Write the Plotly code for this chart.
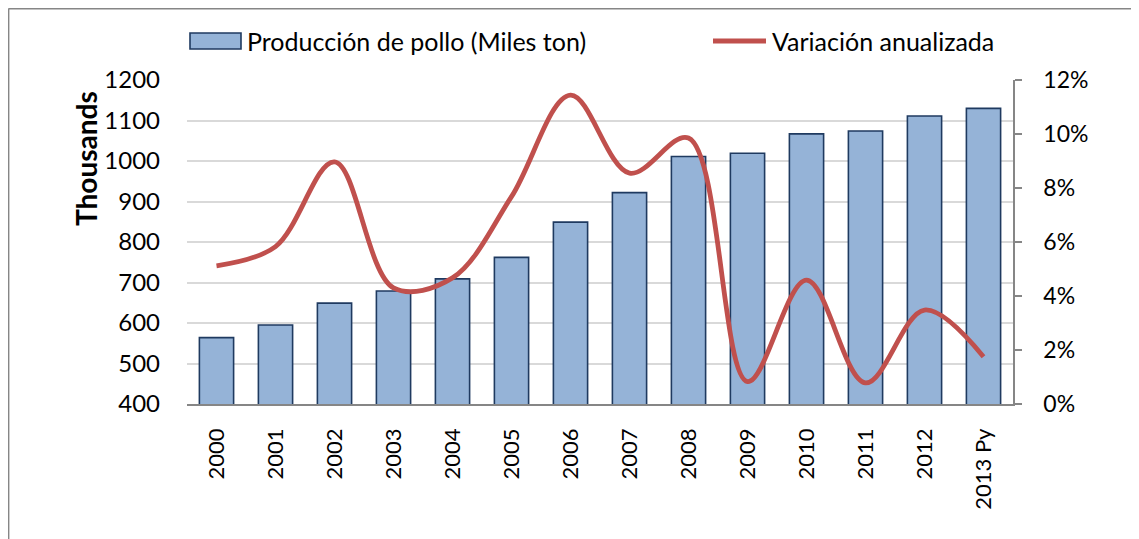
import plotly.graph_objects as go

years = ["2000", "2001", "2002", "2003", "2004", "2005", "2006", "2007",
         "2008", "2009", "2010", "2011", "2012", "2013 Py"]
produccion = [564, 595, 649, 679, 709, 762, 849, 922, 1011, 1019, 1067, 1074, 1111, 1130]
variacion = [0.0512, 0.0583, 0.0897, 0.0430, 0.0467, 0.0768, 0.1144, 0.0855,
             0.0985, 0.0083, 0.0459, 0.0078, 0.0348, 0.0175]

# page offset of the figure (browser body margin)
OFF = 8
W, H = 1139 - OFF, 539 - OFF
# plot area in screen pixels
PL, PR, PT, PB = 187, 1013, 80, 404
L, R, T, B = PL - OFF, W - (PR - OFF), PT - OFF, H - (PB - OFF)
pw, ph = PR - PL, PB - PT


def fx(p):
    return (p - PL) / pw


def fy(p):
    return (PB - p) / ph


FONT = "Lato"
BAR_FILL = "#95B3D7"
BAR_LINE = "#1F3A60"
LINE_COL = "#C0504D"
BORDER = "#868686"

fig = go.Figure()
fig.add_trace(go.Bar(
    x=years, y=produccion, name="Producción de pollo (Miles ton)",
    marker=dict(color=BAR_FILL, line=dict(color=BAR_LINE, width=1.6)),
    yaxis="y",
))
fig.add_trace(go.Scatter(
    x=years, y=variacion, name="Variación anualizada", mode="lines",
    line=dict(color=LINE_COL, width=4.8, shape="spline", smoothing=1.0),
    yaxis="y2",
))

shapes = [
    # outer chart border (top and left edges visible)
    dict(type="line", xref="paper", yref="paper",
         x0=fx(8.5), x1=fx(1139), y0=fy(8.7), y1=fy(8.7),
         line=dict(color=BORDER, width=1.4)),
    dict(type="line", xref="paper", yref="paper",
         x0=fx(8.7), x1=fx(8.7), y0=fy(8.5), y1=fy(539),
         line=dict(color=BORDER, width=1.4)),
    # legend: bar swatch
    dict(type="rect", xref="paper", yref="paper",
         x0=fx(190), x1=fx(241), y0=fy(49), y1=fy(33),
         line=dict(color=BAR_LINE, width=1.6), fillcolor=BAR_FILL),
    # legend: line swatch
    dict(type="line", xref="paper", yref="paper",
         x0=fx(713), x1=fx(766), y0=fy(41), y1=fy(41),
         line=dict(color=LINE_COL, width=4.8)),
]

annotations = [
    dict(text="Producción de pollo (Miles ton)", xref="paper", yref="paper",
         x=fx(245), y=fy(41), xanchor="left", yanchor="middle", showarrow=False,
         font=dict(family=FONT, size=25, color="#000000")),
    dict(text="Variación anualizada", xref="paper", yref="paper",
         x=fx(770), y=fy(41), xanchor="left", yanchor="middle", showarrow=False,
         font=dict(family=FONT, size=25, color="#000000")),
    dict(text="<b>Thousands</b>", xref="paper", yref="paper",
         x=fx(86), y=fy(159), xanchor="center", yanchor="middle", showarrow=False,
         textangle=-90, font=dict(family=FONT, size=28, color="#000000")),
]

fig.update_layout(
    width=W, height=H,
    margin=dict(l=L, r=R, t=T, b=B, autoexpand=False),
    paper_bgcolor="white", plot_bgcolor="white",
    font=dict(family=FONT, size=24, color="#000000"),
    bargap=0.42,
    showlegend=False,
    xaxis=dict(
        type="category", tickangle=-90, showgrid=False,
        showline=True, linecolor=BORDER, linewidth=1.5,
        ticks="", tickfont=dict(family=FONT, size=22),
        ticklabelstandoff=14,
    ),
    yaxis=dict(
        range=[400, 1200], dtick=100, showgrid=True, gridcolor="#D9D9D9", gridwidth=1.5,
        showline=False, ticks="", zeroline=False,
        tickfont=dict(family=FONT, size=24), ticklabelstandoff=26,
    ),
    yaxis2=dict(
        range=[0, 0.12], dtick=0.02, tickformat=".0%", overlaying="y", side="right",
        showgrid=False, showline=True, linecolor=BORDER, linewidth=1.5,
        ticks="outside", ticklen=7, tickcolor=BORDER, tickwidth=1.5,
        tickfont=dict(family=FONT, size=23), ticklabelstandoff=17, zeroline=False,
    ),
    shapes=shapes,
    annotations=annotations,
)

fig.write_html("out.html")
